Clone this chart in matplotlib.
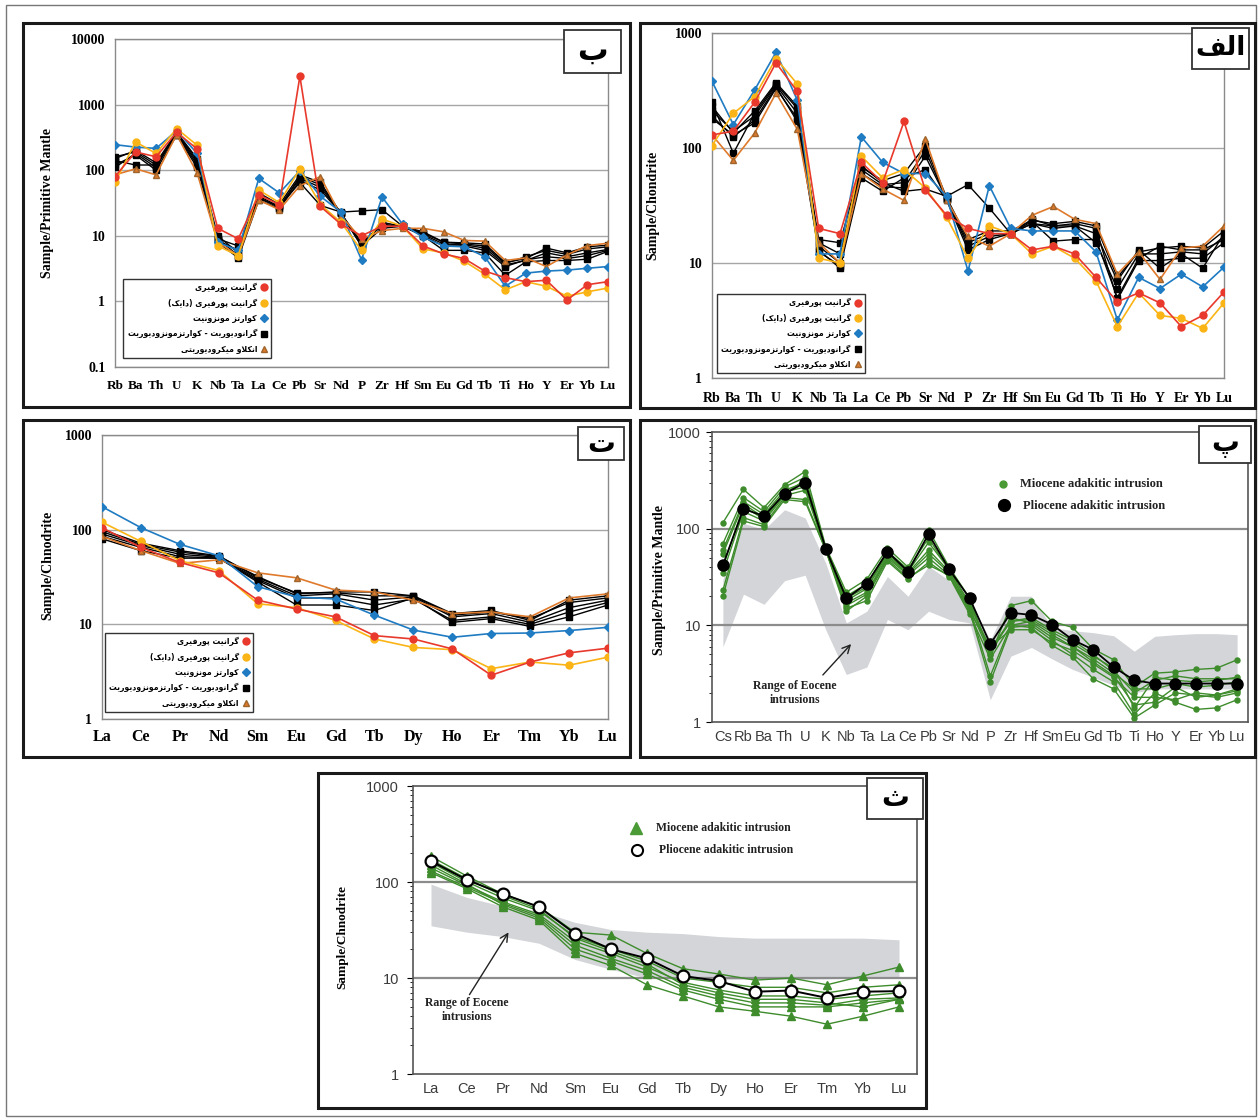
import numpy as np
import matplotlib
matplotlib.use('Agg')
import matplotlib.pyplot as plt
from matplotlib.patches import Rectangle
from matplotlib.lines import Line2D
from matplotlib.ticker import LogLocator, NullFormatter

W, H = 1260, 1120

# ---- element orders ----
spider_elements = ['Rb', 'Ba', 'Th', 'U', 'K', 'Nb', 'Ta', 'La', 'Ce', 'Pb', 'Sr', 'Nd', 'P',
                   'Zr', 'Hf', 'Sm', 'Eu', 'Gd', 'Tb', 'Ti', 'Ho', 'Y', 'Er', 'Yb', 'Lu']
ree_elements = ['La', 'Ce', 'Pr', 'Nd', 'Sm', 'Eu', 'Gd', 'Tb', 'Dy', 'Ho', 'Er', 'Tm', 'Yb', 'Lu']
adakite_elements = ['Cs', 'Rb', 'Ba', 'Th', 'U', 'K', 'Nb', 'Ta', 'La', 'Ce', 'Pb', 'Sr', 'Nd', 'P',
                    'Zr', 'Hf', 'Sm', 'Eu', 'Gd', 'Tb', 'Ti', 'Ho', 'Y', 'Er', 'Yb', 'Lu']

# ---- ب : primitive-mantle normalised ----
pm_red = [80, 190, 160, 380, 210, 13, 9, 42, 30, 2700, 28, 15, 10, 14, 14, 7, 5.3, 4.5, 2.9, 2.3, 2.0, 2.1, 1.05, 1.8, 2.0]
pm_yellow = [65, 270, 180, 430, 240, 7, 5, 50, 32, 105, 30, 16, 6, 18, 14, 6.3, 5.5, 4.1, 2.6, 1.5, 2.0, 1.7, 1.2, 1.4, 1.6]
pm_blue = [245, 225, 215, 400, 180, 8, 6, 75, 45, 98, 40, 23, 4.3, 39, 15, 9.5, 7, 6.8, 4.8, 1.7, 2.7, 2.9, 3.0, 3.2, 3.4]
pm_orange = [85, 105, 85, 350, 90, 8, 5, 35, 25, 58, 80, 20, 9, 12, 13, 13, 11.5, 8.5, 8.3, 4.2, 4.6, 3.4, 5.1, 7.1, 7.7]
pm_black = [
    [160, 190, 120, 360, 130, 9, 5, 38, 27, 80, 60, 22, 7, 16, 14, 11, 8, 7.8, 7.5, 3.9, 4.5, 6.5, 5.5, 6.8, 7.2],
    [140, 120, 120, 350, 120, 9, 7, 40, 28, 65, 29, 23, 24, 25, 14, 10, 6, 6, 5.5, 2.5, 4.0, 4.2, 4.2, 4.4, 5.8],
    [120, 170, 100, 340, 110, 8, 4.6, 35, 26, 70, 50, 22, 8, 14, 14, 10.5, 7.5, 7.3, 6.5, 3.6, 4.2, 5.5, 4.8, 5.5, 6.2],
    [150, 200, 130, 380, 150, 10, 5.5, 45, 30, 85, 65, 22, 7.5, 15, 14, 11.5, 8, 7.5, 7, 3.8, 4.8, 6.0, 5.2, 6.3, 6.8],
    [110, 180, 110, 370, 140, 8.5, 6, 37, 28, 75, 55, 22, 7, 13, 14, 10, 7, 7, 6, 3.4, 4.3, 4.8, 4.5, 5.0, 6.0],
]

# ---- الف : chondrite normalised, same elements ----
ch_red = [130, 140, 250, 550, 310, 20, 18, 75, 50, 170, 43, 26, 20, 18, 18, 13, 14, 12, 7.5, 4.6, 5.5, 4.5, 2.8, 3.5, 5.6]
ch_yellow = [105, 200, 280, 600, 360, 11, 10, 85, 55, 65, 45, 25, 11, 21, 18, 12, 14, 11, 7, 2.8, 5.5, 3.5, 3.3, 2.7, 4.5]
ch_blue = [380, 160, 320, 680, 260, 12, 12, 125, 75, 60, 60, 38, 8.5, 47, 20, 19, 19, 19, 12.5, 3.2, 7.5, 6, 8, 6.2, 9.2]
ch_orange = [130, 78, 135, 300, 145, 15, 10, 60, 44, 35, 120, 35, 17, 14, 18, 26, 31, 24, 22, 8, 12.5, 7.2, 13.5, 14, 21]
ch_black = [
    [250, 90, 200, 360, 220, 16, 15, 70, 50, 42, 44, 38, 48, 30, 18, 23, 15.5, 16, 16, 5, 11, 14, 13, 13, 16],
    [180, 130, 165, 330, 180, 13, 9, 55, 42, 55, 65, 35, 13, 16, 18, 22, 20, 21, 18, 7, 13, 9, 12, 9, 18],
    [210, 140, 190, 350, 200, 14, 10, 65, 48, 50, 95, 36, 15, 18, 18, 24, 21, 22, 20, 4.8, 10.5, 10.5, 11, 11, 15],
    [190, 125, 175, 340, 170, 12.5, 9.5, 60, 46, 45, 85, 36, 14, 17, 18, 22, 21, 21, 15, 6, 12, 12, 12.5, 12, 17],
    [230, 135, 210, 370, 230, 15, 12, 68, 52, 60, 105, 37, 16, 19, 19, 23.5, 22, 23, 21, 7.5, 12.5, 13.5, 14, 13.5, 19],
]

# ---- ت : REE chondrite normalised ----
ree_red = [105, 65, 45, 35, 18, 14.5, 12, 7.6, 7.0, 5.5, 2.9, 4.0, 5.0, 5.6]
ree_yellow = [120, 75, 47, 37, 16.5, 15, 11, 7, 5.7, 5.4, 3.4, 4.0, 3.7, 4.5]
ree_blue = [175, 105, 70, 53, 25, 19.5, 18.5, 12.5, 8.7, 7.3, 8, 8.1, 8.6, 9.3]
ree_orange = [85, 60, 44, 48, 35, 31, 23, 22, 18, 13, 13.5, 12, 19, 21]
ree_black = [
    [95, 70, 58, 52, 32, 21, 22, 22, 20, 13, 14, 11, 18, 20],
    [80, 60, 50, 50, 28, 16, 16, 14, 19, 10.5, 11.5, 9.5, 12, 16],
    [90, 68, 55, 51, 30, 20, 21, 18, 19.5, 12, 13, 10.5, 15, 18],
    [85, 65, 52, 50, 29, 19, 19, 16, 18.5, 11, 12, 10, 13.5, 17],
    [100, 72, 60, 53, 31, 21.5, 21.5, 20, 20, 12.5, 13.5, 11.5, 17, 19],
]

# ---- پ : adakitic intrusions, primitive mantle ----
plio_pm = [42, 160, 135, 230, 300, 62, 19, 27, 58, 36, 88, 38, 19, 6.4, 13.5, 12.8, 10.2, 7.1, 5.6, 3.7, 2.7, 2.5, 2.5, 2.5, 2.5, 2.5]
mio_pm = [
    [115, 255, 165, 285, 390, 65, 22, 30, 63, 40, 97, 40, 19, 4.9, 16, 18, 11, 9.5, 5.7, 4.4, 2.3, 3.2, 3.3, 3.5, 3.6, 4.4],
    [70, 210, 150, 270, 340, 63, 20, 27, 58, 38, 80, 37, 17, 5.5, 11, 12, 9, 7, 5, 3.4, 2.0, 2.7, 3.0, 2.8, 2.8, 2.8],
    [60, 190, 140, 250, 300, 62, 18, 24, 54, 35, 60, 36, 15, 3.0, 10, 11, 8, 6, 4.2, 3.0, 1.5, 1.6, 2.3, 1.8, 1.9, 2.2],
    [35, 150, 120, 220, 250, 60, 16, 21, 50, 33, 50, 33, 14, 2.6, 9.5, 10, 7, 5, 3.5, 2.6, 1.2, 2.0, 1.6, 1.35, 1.4, 1.7],
    [23, 130, 110, 210, 200, 60, 15, 18, 46, 30, 45, 32, 13, 4.5, 10, 9.5, 6.2, 4.7, 2.8, 2.2, 1.1, 1.5, 2.0, 1.9, 1.8, 2.0],
    [55, 180, 130, 240, 270, 61, 17, 22, 52, 34, 55, 35, 15, 5.0, 12, 10.5, 7.5, 6.0, 4.5, 3.2, 2.2, 2.2, 2.5, 2.3, 2.4, 2.6],
    [20, 120, 105, 200, 190, 60, 14, 20, 48, 31, 42, 33, 14, 6.0, 9, 9, 6.6, 5.5, 4.0, 2.9, 1.8, 1.8, 1.7, 2.0, 1.9, 2.1],
    [40, 170, 125, 230, 320, 62, 19, 25, 56, 36, 72, 38, 16, 5.8, 11, 11.5, 8.5, 6.5, 4.8, 3.6, 1.4, 2.9, 2.7, 2.6, 2.7, 2.9],
]
eocene_pm_upper = [30, 114, 98, 157, 129, 44, 10.6, 14, 32, 20, 41, 29, 18.5, 7, 20, 20, 9.5, 8.8, 8.4, 7.8, 5.4, 7.7, 8.0, 8.2, 8.2, 8.0]
eocene_pm_lower = [6, 21, 16.5, 29, 33, 9, 3.1, 3.7, 11.5, 9, 14, 11.5, 10.6, 1.7, 4.8, 5.9, 4.5, 3.5, 2.9, 2.4, 2.0, 2.2, 2.2, 2.2, 2.2, 2.2]

# ---- ث : adakitic intrusions, REE ----
plio_ree = [165, 105, 75, 55, 29, 20, 16, 10.5, 9.3, 7.2, 7.4, 6.2, 7.2, 7.3]
mio_ree = [
    [185, 115, 75, 55, 30, 28, 18, 12.5, 11, 9.5, 10, 8.5, 10.5, 13],
    [160, 100, 68, 50, 27, 20, 15, 10, 9, 8, 8, 7, 8, 8.5],
    [140, 92, 62, 46, 24, 18, 13, 9, 7.5, 6.5, 6.5, 6, 6.5, 7],
    [125, 85, 55, 40, 18, 13.5, 8.5, 6.5, 5, 4.5, 4, 3.3, 4, 5],
    [150, 95, 58, 42, 20, 15, 11, 7.5, 6, 5, 5, 5, 5.5, 6],
    [170, 108, 72, 52, 26, 19, 14, 8.5, 7, 6, 6, 5.5, 5, 6],
    [130, 88, 60, 44, 22, 16, 12, 8, 6.5, 5.5, 5.5, 5.2, 6, 6.2],
]
eocene_ree_upper = [95, 69, 56, 50, 38, 32, 30, 29, 27, 26, 26, 26, 26, 25]
eocene_ree_lower = [35, 30, 27, 23, 15.6, 12.3, 10, 9.7, 9.7, 9.7, 9.7, 9.8, 10, 10]

# rock-type names for the legends
rock_names = ['گرانیت پورفیری', 'گرانیت پورفیری (دایک)', 'کوارتز مونزونیت',
              'گرانودیوریت - کوارتزمونزودیوریت', 'انکلاو میکرودیوریتی']
panel_names = ['ب', 'الف', 'ت', 'پ', 'ث']

# ---- Persian shaping (presentation forms + visual order) ----
FA_FORMS = {
    'ا': ('\uFE8D', '\uFE8E', None, None),
    'ب': ('\uFE8F', '\uFE90', '\uFE91', '\uFE92'),
    'ت': ('\uFE95', '\uFE96', '\uFE97', '\uFE98'),
    'ث': ('\uFE99', '\uFE9A', '\uFE9B', '\uFE9C'),
    'د': ('\uFEA9', '\uFEAA', None, None),
    'ر': ('\uFEAD', '\uFEAE', None, None),
    'ز': ('\uFEAF', '\uFEB0', None, None),
    'ف': ('\uFED1', '\uFED2', '\uFED3', '\uFED4'),
    'ل': ('\uFEDD', '\uFEDE', '\uFEDF', '\uFEE0'),
    'م': ('\uFEE1', '\uFEE2', '\uFEE3', '\uFEE4'),
    'ن': ('\uFEE5', '\uFEE6', '\uFEE7', '\uFEE8'),
    'و': ('\uFEED', '\uFEEE', None, None),
    'پ': ('\uFB56', '\uFB57', '\uFB58', '\uFB59'),
    'ک': ('\uFB8E', '\uFB8F', '\uFB90', '\uFB91'),
    'گ': ('\uFB92', '\uFB93', '\uFB94', '\uFB95'),
    'ی': ('\uFBFC', '\uFBFD', '\uFBFE', '\uFBFF'),
}


def shape_fa(text):
    res = []
    n = len(text)
    i = 0
    while i < n:
        c = text[i]
        if c not in FA_FORMS:
            res.append(c)
            i += 1
            continue
        prev = text[i - 1] if i > 0 else ''
        nxt = text[i + 1] if i + 1 < n else ''
        join_prev = prev in FA_FORMS and FA_FORMS[prev][2] is not None
        if c == 'ل' and nxt == 'ا':
            res.append('\uFEFC' if join_prev else '\uFEFB')
            i += 2
            continue
        iso, fin, ini, med = FA_FORMS[c]
        join_next = ini is not None and nxt in FA_FORMS
        if join_prev and join_next:
            res.append(med)
        elif join_prev:
            res.append(fin)
        elif join_next:
            res.append(ini)
        else:
            res.append(iso)
        i += 1
    swap = {'(': ')', ')': '('}
    return ''.join(swap.get(ch, ch) for ch in reversed(res))


# ---- helpers ----
def px_rect(x0, y0, x1, y1):
    return [x0 / W, 1 - y1 / H, (x1 - x0) / W, (y1 - y0) / H]


def fig_box(fig, x0, y0, x1, y1, lw=2.2, color='#1a1a1a', fill=False, zorder=5):
    fig.add_artist(Rectangle((x0 / W, 1 - y1 / H), (x1 - x0) / W, (y1 - y0) / H,
                             transform=fig.transFigure, fill=fill, facecolor='white',
                             edgecolor=color, lw=lw, zorder=zorder))


def panel_tag(fig, x0, y0, x1, y1, name, size):
    fig_box(fig, x0, y0, x1, y1, lw=1.3, color='#333333', fill=True, zorder=6)
    fig.text((x0 + x1) / 2 / W, 1 - (y0 + y1) / 2 / H, shape_fa(name), ha='center', va='center',
             fontsize=size, fontweight='bold', family=['DejaVu Sans'], zorder=7)


def ylabel(fig, x, y, text, size=10):
    fig.text(x / W, 1 - y / H, text, rotation=90, ha='center', va='center', fontsize=size,
             fontweight='bold', family='Liberation Serif')


SERIF = 'Liberation Serif'
RED, YELLOW, BLUE, ORANGE = '#e8392c', '#fbb416', '#1f7bc2', '#df7a2c'


def style_excel(ax, ylim, yticks, ylabels, xnames, xfont, yfont, xpad):
    ax.set_yscale('log')
    ax.set_ylim(*ylim)
    ax.set_xlim(0, len(xnames) - 1)
    ax.set_yticks(yticks)
    ax.set_yticklabels(ylabels)
    ax.yaxis.set_minor_locator(plt.NullLocator())
    ax.set_xticks(range(len(xnames)))
    ax.set_xticklabels(xnames)
    ax.tick_params(axis='both', length=0)
    ax.tick_params(axis='x', pad=xpad)
    ax.tick_params(axis='y', pad=7)
    for lab in ax.get_xticklabels():
        lab.set_fontfamily(SERIF)
        lab.set_fontweight('bold')
        lab.set_fontsize(xfont)
    for lab in ax.get_yticklabels():
        lab.set_fontfamily(SERIF)
        lab.set_fontweight('bold')
        lab.set_fontsize(yfont)
    ax.grid(axis='y', color='#a6a6a6', lw=1.0)
    ax.set_axisbelow(True)
    for sp in ax.spines.values():
        sp.set_color('#8a8a8a')
        sp.set_linewidth(1.0)


def draw_rock_series(ax, red, yellow, blue, black, orange):
    x = np.arange(len(red))
    for s in black:
        ax.plot(x, s, color='black', lw=1.0, marker='s', ms=4.2, zorder=3)
    ax.plot(x, orange, color=ORANGE, lw=1.2, marker='^', ms=5, mec='#a0652c', zorder=4)
    ax.plot(x, blue, color=BLUE, lw=1.2, marker='D', ms=3.8, zorder=4)
    ax.plot(x, yellow, color=YELLOW, lw=1.2, marker='o', ms=5, zorder=4)
    ax.plot(x, red, color=RED, lw=1.2, marker='o', ms=5, zorder=5)


def rock_legend(ax, anchor, size):
    styles = [dict(marker='o', color=RED, ms=5), dict(marker='o', color=YELLOW, ms=5),
              dict(marker='D', color=BLUE, ms=3.8), dict(marker='s', color='black', ms=4.2),
              dict(marker='^', color=ORANGE, ms=5, mec='#a0652c')]
    handles = [Line2D([], [], ls='none', **st) for st in styles]
    leg = ax.legend(handles, [shape_fa(t) for t in rock_names], loc='lower left',
                    bbox_to_anchor=anchor, borderaxespad=0, markerfirst=False,
                    handlelength=0.8, handletextpad=0.5, labelspacing=0.8,
                    borderpad=0.55, fancybox=False, framealpha=1,
                    prop=dict(family=['DejaVu Sans'], weight='bold', size=size))
    leg.get_frame().set_edgecolor('#333333')
    leg.get_frame().set_linewidth(1.0)
    leg.set_zorder(10)


def style_adakite(ax, xnames, xlim):
    ax.set_yscale('log')
    ax.set_ylim(1, 1000)
    ax.set_xlim(*xlim)
    ax.set_yticks([1, 10, 100, 1000])
    ax.set_yticklabels(['1', '10', '100', '1000'])
    ax.yaxis.set_minor_locator(LogLocator(base=10, subs=np.arange(2, 10)))
    ax.yaxis.set_minor_formatter(NullFormatter())
    ax.set_xticks(range(len(xnames)))
    ax.set_xticklabels(xnames)
    ax.tick_params(axis='x', length=0, pad=6, labelsize=10.5, labelcolor='#3b3b3b')
    ax.tick_params(axis='y', which='major', length=4, labelsize=10.5, labelcolor='#3b3b3b', pad=4)
    ax.tick_params(axis='y', which='minor', length=2.5)
    for lab in ax.get_xticklabels() + ax.get_yticklabels():
        lab.set_fontfamily('Liberation Sans')
    ax.axhline(10, color='#8c8c8c', lw=1.6, zorder=1.5)
    ax.axhline(100, color='#8c8c8c', lw=1.6, zorder=1.5)
    for sp in ax.spines.values():
        sp.set_color('#555555')
        sp.set_linewidth(1.2)


# ---- figure ----
fig = plt.figure(figsize=(W / 100, H / 100), dpi=100)
fig.patch.set_facecolor('white')

# panel ب
ax_b = fig.add_axes(px_rect(115, 39, 608, 367))
style_excel(ax_b, (0.1, 10000), [0.1, 1, 10, 100, 1000, 10000],
            ['0.1', '1', '10', '100', '1000', '10000'], spider_elements, 9.5, 10, 9)
draw_rock_series(ax_b, pm_red, pm_yellow, pm_blue, pm_black, pm_orange)
rock_legend(ax_b, (0.017, 0.028), 5.6)

# panel الف
ax_a = fig.add_axes(px_rect(712, 33, 1224, 378))
style_excel(ax_a, (1, 1000), [1, 10, 100, 1000], ['1', '10', '100', '1000'],
            spider_elements, 10, 10, 10)
draw_rock_series(ax_a, ch_red, ch_yellow, ch_blue, ch_black, ch_orange)
rock_legend(ax_a, (0.01, 0.014), 5.6)

# panel ت
ax_t = fig.add_axes(px_rect(102, 435, 608, 719))
style_excel(ax_t, (1, 1000), [1, 10, 100, 1000], ['1', '10', '100', '1000'],
            ree_elements, 11.5, 10, 7)
draw_rock_series(ax_t, ree_red, ree_yellow, ree_blue, ree_black, ree_orange)
rock_legend(ax_t, (0.006, 0.025), 5.6)

# panel پ
ax_p = fig.add_axes(px_rect(712, 432, 1248, 722))
style_adakite(ax_p, adakite_elements, (-0.53, len(adakite_elements) - 0.47))
xp = np.arange(len(adakite_elements))
ax_p.fill_between(xp, eocene_pm_lower, eocene_pm_upper, color='#d3d5d8', lw=0, zorder=1)
for s in mio_pm:
    ax_p.plot(xp, s, color='#3e8c2c', lw=1.0, marker='o', ms=3.6, zorder=3)
ax_p.plot(xp, plio_pm, color='black', lw=1.3, marker='o', ms=8, zorder=4)
ax_p.annotate('', xy=(853 / W, 1 - 642 / H), xytext=(821 / W, 1 - 677 / H),
              xycoords='figure fraction', textcoords='figure fraction',
              arrowprops=dict(arrowstyle='->', color='#222222', lw=1.0, mutation_scale=14))
fig.text(795 / W, 1 - 693 / H, 'Range of Eocene\nintrusions', ha='center', va='center',
         fontsize=8.5, fontweight='bold', family=SERIF, linespacing=1.2, color='#222222')
fig.add_artist(Line2D([1003 / W], [1 - 484 / H], transform=fig.transFigure, ls='none',
                      marker='o', ms=5, color='#4a9a36'))
fig.add_artist(Line2D([1004 / W], [1 - 505 / H], transform=fig.transFigure, ls='none',
                      marker='o', ms=8.5, color='black'))
fig.text(1020 / W, 1 - 484 / H, 'Miocene adakitic intrusion', ha='left', va='center',
         fontsize=9, fontweight='bold', family=SERIF, color='#222222')
fig.text(1023 / W, 1 - 506 / H, 'Pliocene adakitic intrusion', ha='left', va='center',
         fontsize=9, fontweight='bold', family=SERIF, color='#222222')

# panel ث
ax_s = fig.add_axes(px_rect(413, 786, 917, 1074))
style_adakite(ax_s, ree_elements, (-0.5, len(ree_elements) - 0.5))
ax_s.tick_params(axis='y', which='both', direction='out')
ax_s.tick_params(axis='y', pad=6)
xs = np.arange(len(ree_elements))
ax_s.fill_between(xs, eocene_ree_lower, eocene_ree_upper, color='#d3d5d8', lw=0, zorder=1)
for s in mio_ree:
    ax_s.plot(xs, s, color='#3e8c2c', lw=1.0, marker='^', ms=6, zorder=3)
ax_s.plot(xs, plio_ree, color='black', lw=1.4, marker='o', ms=8.5, mfc='white', mec='black',
          mew=1.6, zorder=4)
ax_s.annotate('', xy=(510 / W, 1 - 930 / H), xytext=(468 / W, 1 - 997 / H),
              xycoords='figure fraction', textcoords='figure fraction',
              arrowprops=dict(arrowstyle='->', color='#222222', lw=1.0, mutation_scale=14))
fig.text(467 / W, 1 - 1010 / H, 'Range of Eocene\nintrusions', ha='center', va='center',
         fontsize=8.5, fontweight='bold', family=SERIF, linespacing=1.2, color='#222222')
fig.add_artist(Line2D([636 / W], [1 - 828 / H], transform=fig.transFigure, ls='none',
                      marker='^', ms=8, color='#4a9a36'))
fig.add_artist(Line2D([637 / W], [1 - 850 / H], transform=fig.transFigure, ls='none',
                      marker='o', ms=8, mfc='white', mec='black', mew=1.5))
fig.text(656 / W, 1 - 828 / H, 'Miocene adakitic intrusion', ha='left', va='center',
         fontsize=8.5, fontweight='bold', family=SERIF, color='#222222')
fig.text(659 / W, 1 - 850 / H, 'Pliocene adakitic intrusion', ha='left', va='center',
         fontsize=8.5, fontweight='bold', family=SERIF, color='#222222')

# axis titles
ylabel(fig, 48, 203, 'Sample/Primitive Mantle')
ylabel(fig, 653, 205, 'Sample/Chondrite')
ylabel(fig, 48, 565, 'Sample/Chnodrite')
ylabel(fig, 659, 580, 'Sample/Primitive Mantle')
ylabel(fig, 342, 937, 'Sample/Chnodrite', 9.5)

# panel frames and tags
fig_box(fig, 6, 5, 1256, 1116, lw=1.0, color='#777777')
fig_box(fig, 23, 23, 630, 407)
fig_box(fig, 640, 23, 1255, 408)
fig_box(fig, 23, 420, 630, 757)
fig_box(fig, 640, 420, 1255, 757)
fig_box(fig, 318, 773, 926, 1108)
panel_tag(fig, 564, 30, 621, 73, panel_names[0], 22)
panel_tag(fig, 1192, 28, 1249, 69, panel_names[1], 19)
panel_tag(fig, 578, 427, 624, 460, panel_names[2], 20)
panel_tag(fig, 1199, 426, 1251, 463, panel_names[3], 20)
panel_tag(fig, 867, 778, 923, 819, panel_names[4], 20)

fig.savefig('out.png', dpi=100)
